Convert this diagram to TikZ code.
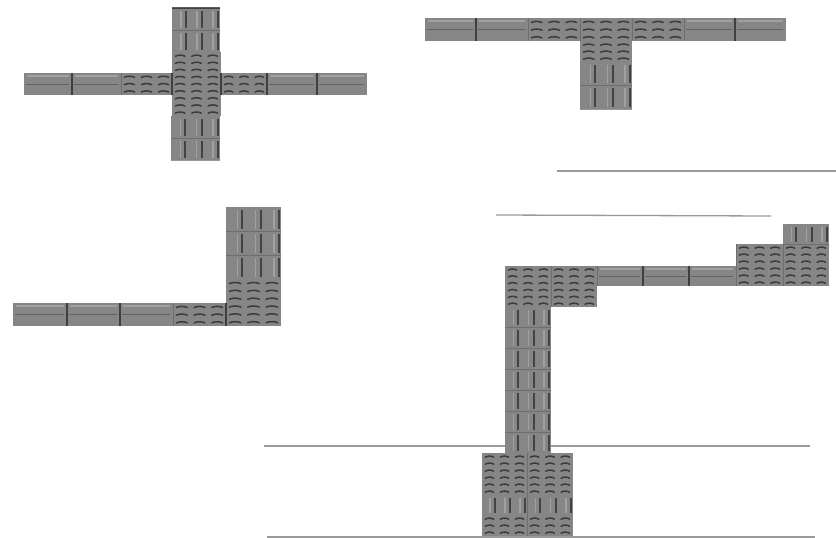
\documentclass[tikz,border=0pt]{standalone}
\definecolor{brick}{HTML}{868686}
\definecolor{dark}{HTML}{333333}
\definecolor{mid}{HTML}{626262}
\definecolor{pale}{HTML}{B4B4B4}
\definecolor{rule}{HTML}{9A9A9A}
\tikzset{
  x=1pt,y=-1pt,
  joint/.style={draw=dark,line width=1.6pt,opacity=.85},
  seam/.style={draw=mid,line width=0.9pt},
  softseam/.style={draw=mid,line width=1pt,opacity=.65},
  arcmark/.style={draw=dark,line width=1.5pt,line cap=round,opacity=.9},
  barmark/.style={draw=dark,line width=2pt,opacity=.8},
  glint/.style={draw=pale,line width=1.2pt,opacity=.6},
  ground/.style={draw=rule,line width=1.3pt}
}
% plain horizontal brick: x0 y0 x1 y1
\newcommand{\plainbrick}[4]{%
  \fill[brick] (#1,#2) rectangle (#3,#4);
  \draw[seam] (#1+2,{(#2+#4)/2}) -- (#3-3,{(#2+#4)/2});
  \draw[glint] (#1+3,#2+3) -- (#3-3,#2+3);
}
% block with arched marks: x0 y0 x1 y1 rows
\newcommand{\archblock}[5]{%
  \fill[brick] (#1,#2) rectangle (#3,#4);
  \foreach \c in {1,2,3}{\foreach \r in {1,...,#5}{
    \pgfmathsetmacro{\cx}{#1+(#3-#1)*(\c-.5)/3}
    \pgfmathsetmacro{\cy}{#2+(#4-#2)*(\r-.5)/#5}
    \pgfmathsetmacro{\hw}{(#3-#1)/6-3.4}
    \draw[arcmark] (\cx-\hw,\cy+.7) .. controls (\cx-\hw/2,\cy-.8) and (\cx+\hw/2,\cy-.8) .. (\cx+\hw,\cy+.7);
  }}
}
% block with vertical bars: x0 y0 x1 y1 rows
\newcommand{\barblock}[5]{%
  \fill[brick] (#1,#2) rectangle (#3,#4);
  \foreach \c in {1,2,3}{
    \pgfmathsetmacro{\cx}{#1+(#3-#1)*\c/3-2}
    \foreach \r in {1,...,#5}{
      \pgfmathsetmacro{\ya}{#2+(#4-#2)*(\r-1)/#5+2.5}
      \pgfmathsetmacro{\yb}{#2+(#4-#2)*\r/#5-2.5}
      \draw[barmark] (\cx,\ya) -- (\cx,\yb);
      \draw[glint] (\cx-5,\ya) -- (\cx-5,\yb);
    }}
  \foreach \r in {1,...,#5}{
    \pgfmathsetmacro{\ya}{#2+(#4-#2)*\r/#5}
    \draw[softseam] (#1,\ya) -- (#3,\ya);
  }
}
\begin{document}
\begin{tikzpicture}
\useasboundingbox (0,0) rectangle (836,538);
\fill[white] (0,0) rectangle (836,538);

% cross
\barblock{172}{8}{220}{52}{2}
\draw[dark,line width=1.5pt,opacity=.8] (172,8) -- (220,8);
\archblock{172}{52}{221}{116}{9}
\barblock{171}{116}{220}{160}{2}
\plainbrick{24}{73}{72}{95}
\plainbrick{72}{73}{121}{95}
\archblock{121}{73}{172}{95}{3}
\archblock{221}{73}{267}{95}{3}
\plainbrick{267}{73}{317}{95}
\plainbrick{317}{73}{367}{95}
\draw[joint] (72,73) -- (72,95) (172,73) -- (172,95) (221,73) -- (221,95) (267,73) -- (267,95) (317,73) -- (317,95);
\draw[softseam] (121,73) -- (121,95);

% T
\plainbrick{425}{18}{476}{41}
\plainbrick{476}{18}{528}{41}
\archblock{528}{18}{580}{41}{3}
\archblock{580}{18}{632}{41}{3}
\archblock{632}{18}{684}{41}{3}
\plainbrick{684}{18}{735}{41}
\plainbrick{735}{18}{786}{41}
\archblock{580}{41}{632}{62}{3}
\barblock{580}{62}{632}{109}{2}
\draw[joint] (476,18) -- (476,41) (735,18) -- (735,41);
\draw[softseam] (528,18) -- (528,41) (580,18) -- (580,41) (632,18) -- (632,41) (684,18) -- (684,41);

% L
\barblock{226}{207}{281}{279}{3}
\archblock{226}{279}{281}{326}{6}
\plainbrick{13}{303}{67}{326}
\plainbrick{67}{303}{120}{326}
\plainbrick{120}{303}{173}{326}
\archblock{173}{303}{226}{326}{3}
\draw[joint] (67,303) -- (67,326) (120,303) -- (120,326) (226,303) -- (226,326);
\draw[softseam] (173,303) -- (173,326);

% ground lines
\draw[ground] (557,171) -- (836,171);
\draw[ground] (496,215) -- (771,216);
\draw[ground] (264,446) -- (810,446);
\draw[ground] (267,537) -- (815,537);

% long wall
\barblock{505}{307}{551}{453}{7}
\archblock{505}{266}{551}{307}{6}
\archblock{551}{266}{597}{307}{6}
\plainbrick{597}{266}{643}{286}
\plainbrick{643}{266}{689}{286}
\plainbrick{689}{266}{736}{286}
\archblock{736}{244}{783}{286}{6}
\archblock{783}{244}{829}{286}{6}
\barblock{783}{224}{829}{244}{1}
\draw[joint] (643,266) -- (643,286) (689,266) -- (689,286);
\draw[softseam] (551,266) -- (551,307) (597,266) -- (597,286) (736,244) -- (736,286) (783,244) -- (783,286);

% footing
\archblock{482}{453}{527}{495}{6}
\archblock{527}{453}{573}{495}{6}
\barblock{482}{495}{527}{515}{1}
\barblock{527}{495}{573}{515}{1}
\archblock{482}{515}{527}{536}{3}
\archblock{527}{515}{573}{536}{3}
\draw[softseam] (527,453) -- (527,536);
\end{tikzpicture}
\end{document}
